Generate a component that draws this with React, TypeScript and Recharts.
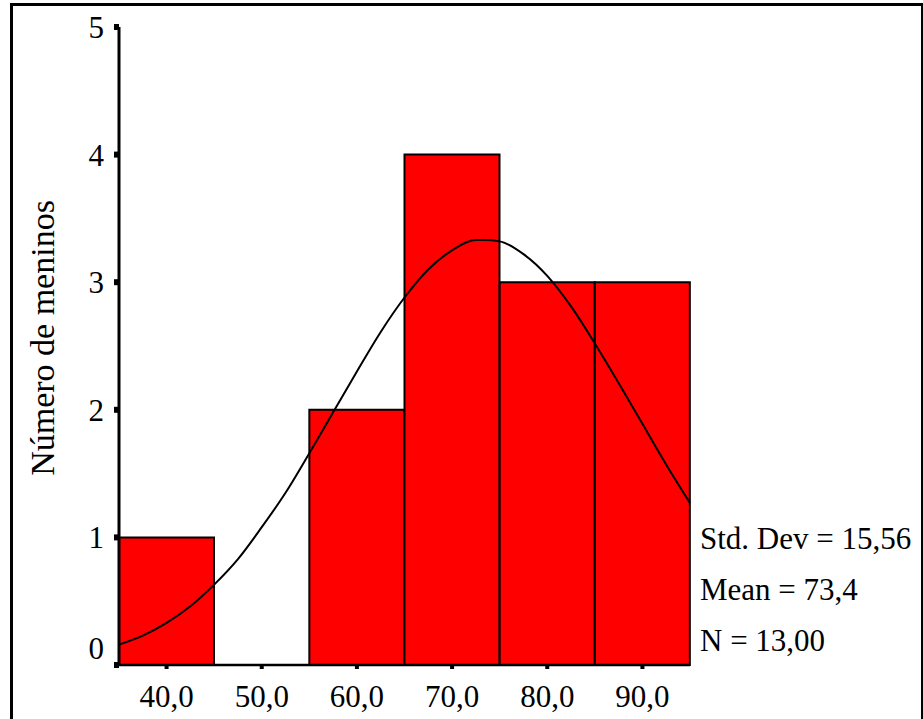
import { ComposedChart, Bar, Line, XAxis, YAxis } from "recharts";

// histogram bins (class midpoints) and counts
const binLabels = ["40,0", "50,0", "60,0", "70,0", "80,0", "90,0"];
const binCounts = [1, 0, 2, 4, 3, 3];

// fitted normal curve
const curveX = [35, 37.5, 40, 42.5, 45, 47.5, 50, 52.5, 55, 57.5, 60, 62.5, 65, 67.5, 70, 72.5, 73.4, 75, 77.5, 80, 82.5, 85, 87.5, 90, 92.5, 95];
const curveY = [0.16, 0.23, 0.33, 0.46, 0.63, 0.83, 1.08, 1.35, 1.66, 1.98, 2.3, 2.61, 2.88, 3.1, 3.25, 3.33, 3.33, 3.32, 3.22, 3.05, 2.81, 2.52, 2.21, 1.89, 1.57, 1.27];

const yTicks = [0, 1, 2, 3, 4, 5];
const statLines = ["Std. Dev = 15,56", "Mean = 73,4", "N = 13,00"];

const bins = binLabels.map((label, i) => ({ label, count: binCounts[i] }));
const curve = curveX.map((x, i) => ({ x, y: curveY[i] }));

const FONT = "'Liberation Serif', 'Times New Roman', serif";

const YTick = (props: any) => {
  const { x, y, payload } = props;
  const dy = payload.value === 0 ? -6 : 11;
  return (
    <text x={x - 8} y={y + dy} textAnchor="end" fontFamily={FONT} fontSize={31} fill="#000">
      {payload.value}
    </text>
  );
};

const XTick = (props: any) => {
  const { x, payload } = props;
  return (
    <text x={x} y={707} textAnchor="middle" fontFamily={FONT} fontSize={31} fill="#000">
      {payload.value}
    </text>
  );
};

export default function App() {
  return (
    <div style={{ position: "absolute", left: 0, top: 0, width: 923, height: 719, background: "#fff", overflow: "hidden", fontFamily: FONT }}>
      <div style={{ position: "absolute", left: 10, top: 3, width: 908, height: 730, border: "3px solid #000" }} />
      <div style={{ position: "absolute", left: 0, top: 0 }}>
        <ComposedChart width={923} height={719} data={bins} margin={{ top: 27, right: 233, bottom: 0, left: 0 }} barCategoryGap={0}>
          <XAxis
            xAxisId="bins"
            dataKey="label"
            height={54}
            axisLine={{ stroke: "#000", strokeWidth: 2.5 }}
            tickLine={{ stroke: "#000", strokeWidth: 4, strokeDasharray: "0 3 4 20" }}
            tickSize={7}
            tick={<XTick />}
            interval={0}
          />
          <XAxis xAxisId="top" orientation="top" dataKey="label" height={0} tick={false} tickLine={false} axisLine={{ stroke: "#555", strokeWidth: 2 }} />
          <XAxis xAxisId="num" type="number" dataKey="x" domain={[35, 95]} hide />
          <YAxis
            yAxisId="left"
            width={119}
            domain={[0, 5]}
            ticks={yTicks}
            interval={0}
            axisLine={{ stroke: "#000", strokeWidth: 3 }}
            tickLine={{ stroke: "#000", strokeWidth: 6 }}
            tickSize={5}
            tick={<YTick />}
          />
          <YAxis yAxisId="right" orientation="right" width={0} domain={[0, 5]} tick={false} tickLine={false} axisLine={{ stroke: "#000", strokeWidth: 2 }} />
          <Bar xAxisId="bins" yAxisId="left" dataKey="count" fill="#ff0000" stroke="#000" strokeWidth={2} isAnimationActive={false} />
          <Line
            xAxisId="num"
            yAxisId="left"
            data={curve}
            dataKey="y"
            type="monotone"
            stroke="#000"
            strokeWidth={2}
            dot={false}
            isAnimationActive={false}
          />
        </ComposedChart>
      </div>
      <div
        style={{
          position: "absolute",
          left: 43,
          top: 338,
          transform: "translate(-50%, -50%) rotate(-90deg)",
          whiteSpace: "nowrap",
          fontSize: 34,
          lineHeight: 1,
          color: "#000",
        }}
      >
        Número de meninos
      </div>
      {statLines.map((s, i) => (
        <div
          key={s}
          style={{ position: "absolute", left: 700, top: 551 + i * 51 - 28, fontSize: 31, lineHeight: "31px", whiteSpace: "nowrap", color: "#000" }}
        >
          {s}
        </div>
      ))}
    </div>
  );
}
